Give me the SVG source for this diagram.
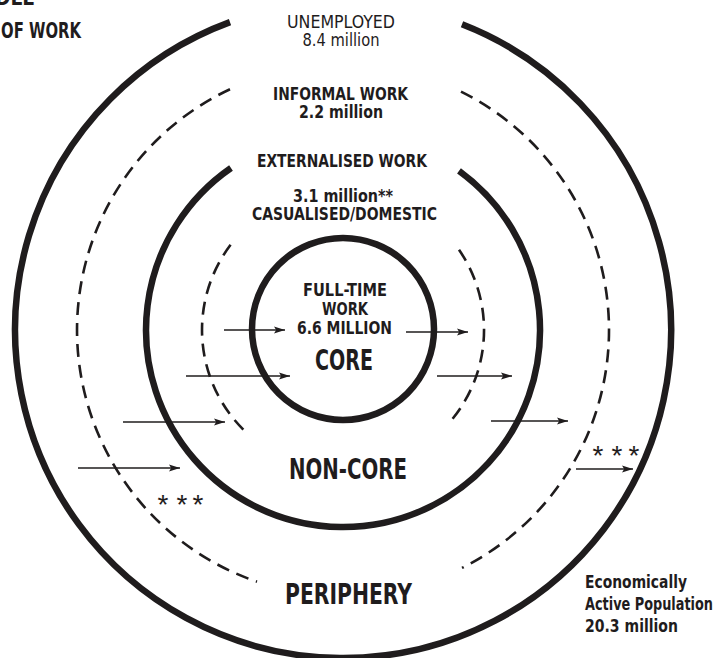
<svg xmlns="http://www.w3.org/2000/svg" width="718" height="658" viewBox="0 0 718 658">
<style>
.solid{fill:none;stroke:#1f1c1d;stroke-width:6.5}
.dash{fill:none;stroke:#1f1c1d;stroke-width:2.6;stroke-dasharray:13 8}
.arr{stroke:#1f1c1d;stroke-width:1.6;fill:none;marker-end:url(#ah)}
text{fill:#1f1c1d;font-family:'Liberation Sans Narrow','DejaVu Sans Condensed','Liberation Sans',sans-serif;font-stretch:condensed}
.b{font-weight:bold}
.c{text-anchor:middle}
.big{font-size:28px;font-weight:bold}
.ast{font-family:'Liberation Sans',sans-serif;font-stretch:normal;font-size:28px;text-anchor:middle}
</style>
<defs>
<marker id="ah" markerUnits="userSpaceOnUse" markerWidth="12" markerHeight="9" refX="11" refY="4" orient="auto">
<path d="M0,0.4 L11,4 L0,7.6 L2.2,4 Z" fill="#1f1c1d"/>
</marker>
</defs>
<rect width="718" height="658" fill="#ffffff"/>

<g id="title">
<text class="b" x="35" y="5" font-size="21" text-anchor="end" textLength="40" lengthAdjust="spacingAndGlyphs">DLE</text>
<text class="b" x="81" y="38" font-size="21" text-anchor="end" textLength="80" lengthAdjust="spacingAndGlyphs">OF WORK</text>
</g>

<g id="periphery-ring">
<path class="solid" d="M462,24.3 A328,328 0 1 1 230,22.1"/>
<text class="big c" x="348.5" y="604" font-size="27" textLength="127" lengthAdjust="spacingAndGlyphs">PERIPHERY</text>
</g>

<g id="unemployed">
<text class="c" x="341" y="28" font-size="17" textLength="108" lengthAdjust="spacingAndGlyphs">UNEMPLOYED</text>
<text class="c" x="341" y="45.5" font-size="17" textLength="77" lengthAdjust="spacingAndGlyphs">8.4 million</text>
</g>

<g id="informal-ring">
<path class="dash" d="M230,89.2 A266,266 0 0 0 257,581.7"/>
<path class="dash" d="M461,91.6 A266,266 0 0 1 462,567.9"/>
<text class="b c" x="340.5" y="100" font-size="17" textLength="135" lengthAdjust="spacingAndGlyphs">INFORMAL WORK</text>
<text class="b c" x="341" y="118" font-size="17" textLength="84" lengthAdjust="spacingAndGlyphs">2.2 million</text>
</g>

<g id="externalised">
<text class="b c" x="342" y="167" font-size="17" textLength="170" lengthAdjust="spacingAndGlyphs">EXTERNALISED WORK</text>
</g>

<g id="non-core-ring">
<path class="solid" d="M459,170.8 A197,197 0 1 1 231,168"/>
<text class="big c" x="348" y="479" textLength="118" lengthAdjust="spacingAndGlyphs">NON-CORE</text>
</g>

<g id="casualised-ring">
<path class="dash" d="M230.6,244.8 A141,141 0 0 0 249,435"/>
<path class="dash" d="M459,249.8 A141,141 0 0 1 447.5,424.7"/>
<text class="b c" x="343" y="202" font-size="17" textLength="100" lengthAdjust="spacingAndGlyphs">3.1 million**</text>
<text class="b c" x="344.5" y="220" font-size="17" textLength="185" lengthAdjust="spacingAndGlyphs">CASUALISED/DOMESTIC</text>
</g>

<g id="core">
<circle class="solid" cx="343" cy="329" r="91"/>
<text class="b c" x="345" y="296" font-size="18" textLength="84" lengthAdjust="spacingAndGlyphs">FULL-TIME</text>
<text class="b c" x="345" y="315" font-size="18" textLength="46" lengthAdjust="spacingAndGlyphs">WORK</text>
<text class="b c" x="344.5" y="334" font-size="18" textLength="95" lengthAdjust="spacingAndGlyphs">6.6 MILLION</text>
<text class="big c" x="344" y="370" textLength="58" lengthAdjust="spacingAndGlyphs">CORE</text>
</g>

<g id="connectors">
<line class="arr" x1="224" y1="330" x2="285" y2="330"/>
<line class="arr" x1="186" y1="376" x2="290" y2="376"/>
<line class="arr" x1="123" y1="422" x2="225" y2="422"/>
<line class="arr" x1="78" y1="468" x2="180" y2="468"/>
<line class="arr" x1="406" y1="332" x2="468" y2="332"/>
<line class="arr" x1="437" y1="376" x2="512" y2="376"/>
<line class="arr" x1="491" y1="421" x2="568" y2="421"/>
<line class="arr" x1="576" y1="469" x2="633" y2="469"/>
</g>

<g id="asterisks">
<text class="ast" x="163 182 198" y="514">***</text>
<text class="ast" x="598 617 634" y="465">***</text>
</g>

<g id="population">
<text class="b" x="585" y="588" font-size="18" textLength="102" lengthAdjust="spacingAndGlyphs">Economically</text>
<text class="b" x="585" y="610" font-size="18" textLength="128" lengthAdjust="spacingAndGlyphs">Active Population</text>
<text class="b" x="585" y="632" font-size="18" textLength="93" lengthAdjust="spacingAndGlyphs">20.3 million</text>
</g>
</svg>
